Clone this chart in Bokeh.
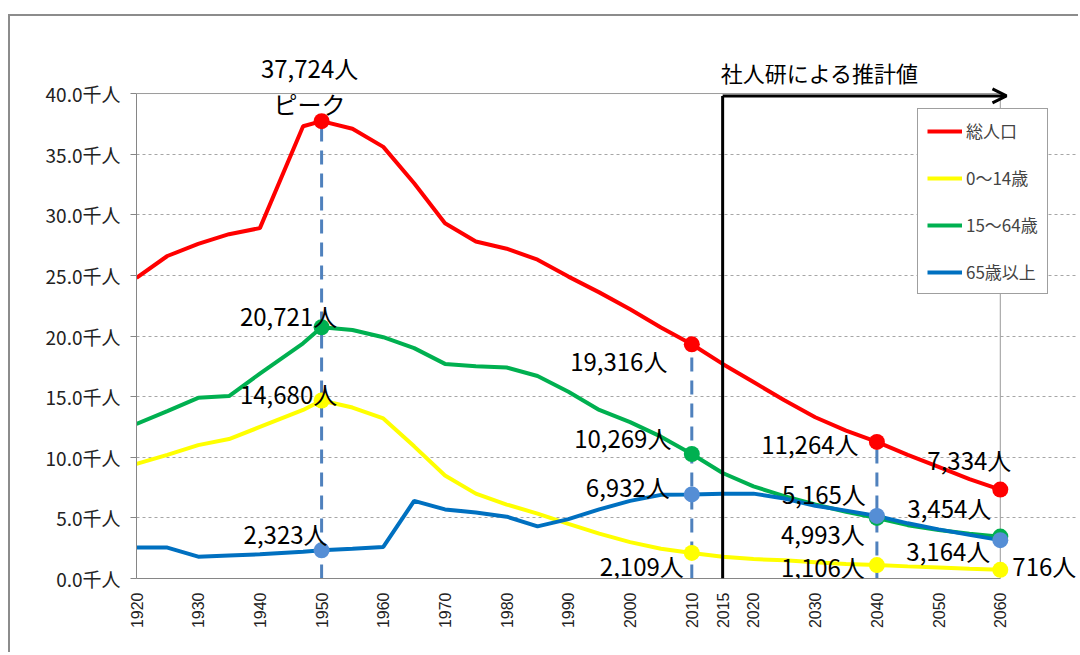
import math
from bokeh.plotting import figure
from bokeh.models import FixedTicker, PrintfTickFormatter, Label, Arrow, OpenHead
from bokeh.embed import file_html
from bokeh.resources import INLINE

# ---------------- data ----------------
YEARS = [1920, 1925, 1930, 1935, 1940, 1947, 1950, 1955, 1960, 1965, 1970, 1975,
         1980, 1985, 1990, 1995, 2000, 2005, 2010, 2015, 2020, 2025, 2030, 2035,
         2040, 2045, 2050, 2055, 2060]
TOTAL = [24.8, 26.6, 27.6, 28.4, 28.9, 37.3, 37.724, 37.1, 35.6, 32.6, 29.3, 27.8,
         27.2, 26.3, 24.9, 23.6, 22.2, 20.7, 19.316, 17.7, 16.2, 14.7, 13.3, 12.2,
         11.264, 10.2, 9.2, 8.2, 7.334]
AGE_0_14 = [9.45, 10.2, 11.0, 11.5, 12.5, 13.9, 14.680, 14.1, 13.2, 10.9, 8.5, 7.0,
            6.1, 5.35, 4.5, 3.7, 3.0, 2.45, 2.109, 1.8, 1.6, 1.5, 1.35, 1.2,
            1.106, 1.0, 0.9, 0.8, 0.716]
AGE_15_64 = [12.75, 13.8, 14.9, 15.05, 16.9, 19.4, 20.721, 20.5, 19.9, 19.0, 17.7, 17.5,
             17.4, 16.7, 15.4, 13.9, 12.9, 11.7, 10.269, 8.7, 7.6, 6.8, 6.1, 5.5,
             4.993, 4.4, 4.0, 3.7, 3.454]
AGE_65_PLUS = [2.55, 2.55, 1.8, 1.9, 2.0, 2.2, 2.323, 2.45, 2.6, 6.4, 5.7, 5.45,
               5.1, 4.3, 4.9, 5.7, 6.4, 6.9, 6.932, 7.0, 7.0, 6.6, 6.0, 5.6,
               5.165, 4.55, 4.05, 3.6, 3.164]
SERIES_NAMES = ["総人口", "0～14歳", "15～64歳", "65歳以上"]
HIGHLIGHT_YEARS = [1950, 2010, 2040, 2060]
GUIDE_YEARS = [1950, 2010, 2040]
PROJECTION_START = 2015
TICK_YEARS = [1920, 1930, 1940, 1950, 1960, 1970, 1980, 1990, 2000, 2010, 2015,
              2020, 2030, 2040, 2050, 2060]
Y_TICKS = [0, 5, 10, 15, 20, 25, 30, 35, 40]
X_START, X_END = 1920, 2060
Y_TOP = 40
PEAK_NOTE = "ピーク"
PROJECTION_NOTE = "社人研による推計値"

# ---------------- styles ----------------
LINE_COLORS = ["#FF0000", "#FFFF00", "#00B050", "#0070C0"]
MARKER_COLORS = ["#FF0000", "#FFFF00", "#00B050", "#558ED5"]
# label offsets in screen px (dx right, dy down) per series, per highlight year
LABEL_OFFSETS = [
    [(-12, -54), (-73, 16), (-67, 2), (-31, -30)],
    [(-33, -7), (-50, 13), (-54, 1), (44, -4)],
    [(-33, -12), (-69, -16), (-54, 16), (-51, -29)],
    [(-36, -17), (-64, -8), (-53, -22), (-52, 10)],
]
FONT = "Noto Sans CJK JP"
FRAME_GRAY = "#9A9A9A"

series = [TOTAL, AGE_0_14, AGE_15_64, AGE_65_PLUS]

W, H = 1070, 638
p = figure(width=W, height=H, x_range=(1920, 2073), y_range=(0, 43.55),
           output_backend="svg", toolbar_location=None,
           min_border_left=126, min_border_right=0, min_border_top=34,
           min_border_bottom=76)
p.styles = {"margin-left": "8px", "margin-top": "14px",
            "border-top": "2px solid #8C8C8C", "border-left": "2px solid #8C8C8C"}
p.background_fill_color = "white"
p.border_fill_color = "white"
p.outline_line_color = None

# axes
p.yaxis.ticker = FixedTicker(ticks=Y_TICKS)
p.yaxis.bounds = (0, Y_TOP)
p.yaxis.formatter = PrintfTickFormatter(format="%.1f千人")
p.yaxis.major_tick_out = 6
p.yaxis.major_tick_in = 0
p.yaxis.minor_tick_line_color = None
p.yaxis.axis_line_color = "#868686"
p.yaxis.major_tick_line_color = "#868686"
p.yaxis.major_label_standoff = 10
p.yaxis.major_label_text_font = FONT
p.yaxis.major_label_text_font_size = "19px"
p.yaxis.major_label_text_color = "#222222"

p.xaxis.ticker = FixedTicker(ticks=TICK_YEARS)
p.xaxis.bounds = (X_START, X_END)
p.xaxis.major_label_orientation = math.pi / 2
p.xaxis.major_tick_line_color = None
p.xaxis.minor_tick_line_color = None
p.xaxis.axis_line_color = "#868686"
p.xaxis.major_label_standoff = 8
p.xaxis.major_label_text_font = "Liberation Sans"
p.xaxis.major_label_text_font_size = "16px"
p.xaxis.major_label_text_color = "#222222"

p.xgrid.grid_line_color = None
p.ygrid.ticker = FixedTicker(ticks=Y_TICKS[1:-1])
p.ygrid.grid_line_color = "#A6A6A6"
p.ygrid.grid_line_dash = "3 3"
p.ygrid.grid_line_width = 1
p.ygrid.bounds = (X_START, X_END)

# plot-area top and right borders
p.segment(x0=[X_START, X_END], y0=[Y_TOP, 0], x1=[X_END, X_END], y1=[Y_TOP, Y_TOP],
          line_color=FRAME_GRAY, line_width=1)

# guide dashed lines from the top value down to the axis
guide_tops = [max(s[YEARS.index(y)] for s in series) for y in GUIDE_YEARS]
p.segment(x0=GUIDE_YEARS, y0=[0] * len(GUIDE_YEARS), x1=GUIDE_YEARS, y1=guide_tops,
          line_color="#4F81BD", line_width=3, line_dash="14 9")

# series lines
for s, name, col in zip(series, SERIES_NAMES, LINE_COLORS):
    p.line(YEARS, s, line_color=col, line_width=4, legend_label=name)

# projection boundary and arrow
arrow_y = 39.8
p.add_layout(Arrow(x_start=PROJECTION_START, y_start=0, x_end=PROJECTION_START,
                   y_end=arrow_y, end=None, line_width=3, line_color="black"))
p.add_layout(Arrow(x_start=PROJECTION_START, y_start=arrow_y, x_end=2061, y_end=arrow_y,
                   end=OpenHead(size=14, line_width=3, line_color="black"),
                   line_width=3, line_color="black"))
p.add_layout(Label(x=PROJECTION_START, y=Y_TOP, x_offset=-2, y_offset=22,
                   text=PROJECTION_NOTE, text_align="left", text_baseline="middle",
                   text_font=FONT, text_font_size="22px", text_color="black"))

# markers and labels
for si, (s, mcol) in enumerate(zip(series, MARKER_COLORS)):
    vals = [s[YEARS.index(y)] for y in HIGHLIGHT_YEARS]
    p.scatter(HIGHLIGHT_YEARS, vals, size=16, fill_color=mcol, line_color=None)
    for yi, (yr, v) in enumerate(zip(HIGHLIGHT_YEARS, vals)):
        dx, dy = LABEL_OFFSETS[si][yi]
        p.add_layout(Label(x=yr, y=v, x_offset=dx, y_offset=-dy,
                           text=f"{round(v * 1000):,}人", text_align="center",
                           text_baseline="middle", text_font=FONT,
                           text_font_size="24px", text_color="black"))

# peak note
peak_i = TOTAL.index(max(TOTAL))
p.add_layout(Label(x=YEARS[peak_i], y=TOTAL[peak_i], x_offset=-12, y_offset=18,
                   text=PEAK_NOTE, text_align="center", text_baseline="middle",
                   text_font=FONT, text_font_size="24px", text_color="black"))

# legend
lg = p.legend[0]
lg.location = (781, 284)
lg.margin = 0
lg.padding = 9
lg.spacing = 22
lg.glyph_width = 35
lg.glyph_height = 20
lg.label_height = 20
lg.label_standoff = 4
lg.label_text_font = FONT
lg.label_text_font_size = "17px"
lg.border_line_color = "#404040"
lg.border_line_width = 1
lg.background_fill_color = "white"
lg.background_fill_alpha = 1.0

open("out.html", "w").write(file_html(p, INLINE))
